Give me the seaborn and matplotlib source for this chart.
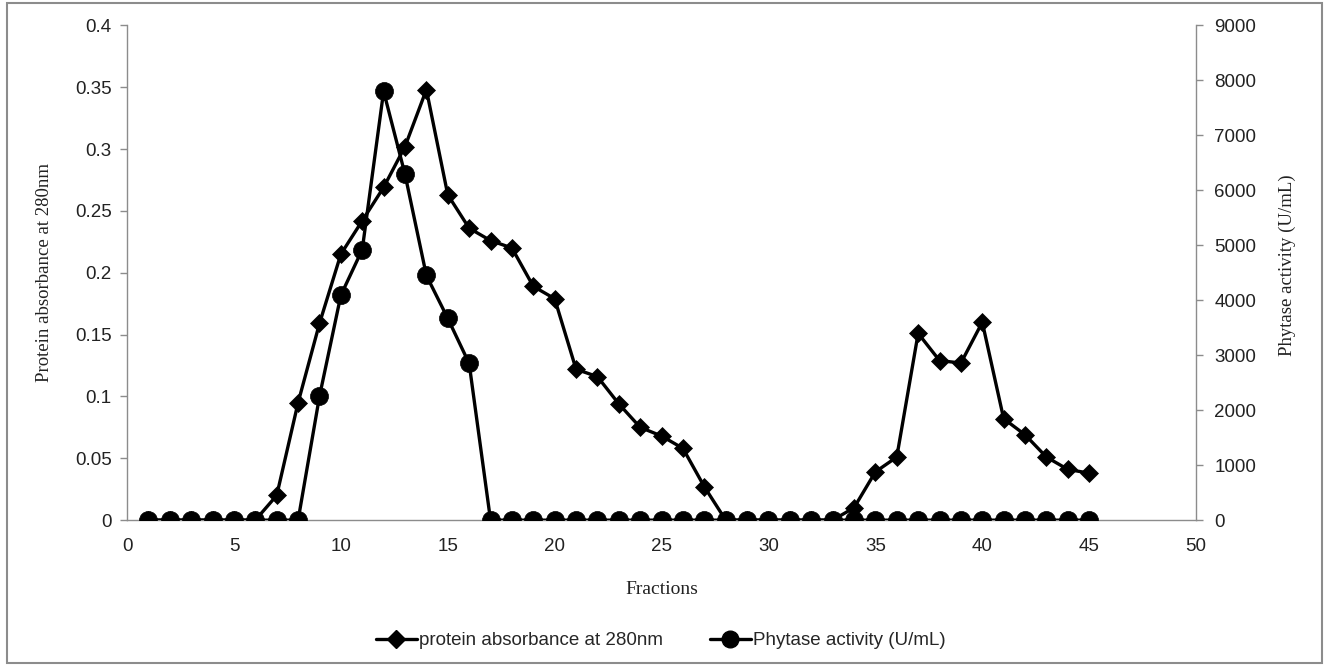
import matplotlib
matplotlib.use("Agg")
import matplotlib.pyplot as plt
from matplotlib.patches import Rectangle
from matplotlib.lines import Line2D
import seaborn as sns
import pandas as pd

# Fraction numbers collected from the column
fractions = list(range(1, 46))

# Protein absorbance at 280 nm for each fraction
protein_a280 = [0, 0, 0, 0, 0, 0, 0.020, 0.095, 0.159, 0.215,
                0.242, 0.269, 0.302, 0.348, 0.263, 0.236, 0.226, 0.220, 0.189, 0.179,
                0.122, 0.116, 0.094, 0.075, 0.068, 0.058, 0.027, 0.0, 0, 0,
                0, 0, 0, 0.010, 0.039, 0.051, 0.151, 0.129, 0.127, 0.160,
                0.082, 0.069, 0.051, 0.041, 0.038]

# Phytase activity (U/mL) for each fraction
phytase_activity = [0, 0, 0, 0, 0, 0, 0, 0, 2250, 4090,
                    4920, 7800, 6290, 4450, 3670, 2850, 0, 0, 0, 0,
                    0, 0, 0, 0, 0, 0, 0, 0, 0, 0,
                    0, 0, 0, 0, 0, 0, 0, 0, 0, 0,
                    0, 0, 0, 0, 0]

x_ticks = [0, 5, 10, 15, 20, 25, 30, 35, 40, 45, 50]
left_ticks = [0, 0.05, 0.1, 0.15, 0.2, 0.25, 0.3, 0.35, 0.4]
left_tick_labels = ["0", "0.05", "0.1", "0.15", "0.2", "0.25", "0.3", "0.35", "0.4"]
right_ticks = [0, 1000, 2000, 3000, 4000, 5000, 6000, 7000, 8000, 9000]

protein_label = "protein absorbance at 280nm"
phytase_label = "Phytase activity (U/mL)"

df = pd.DataFrame({"Fraction": fractions,
                   "A280": protein_a280,
                   "Phytase": phytase_activity})

sns.set_theme(style="white")
plt.rcParams["font.family"] = ["Liberation Sans", "DejaVu Sans"]

fig = plt.figure(figsize=(13.29, 6.66), dpi=100)
ax = fig.add_axes([0.0956, 0.219, 0.8044, 0.743])
ax2 = ax.twinx()

grey = "#8c8c8c"
tick_font = dict(fontsize=13.5, color="#222222")

sns.lineplot(data=df, x="Fraction", y="A280", ax=ax, color="black",
             linewidth=2.4, marker="D", markersize=9.5, markeredgecolor="black",
             markeredgewidth=0.5)
sns.lineplot(data=df, x="Fraction", y="Phytase", ax=ax2, color="black",
             linewidth=2.4, marker="o", markersize=13, markeredgecolor="black",
             markeredgewidth=0.5)

ax.set_xlim(0, 50)
ax.set_ylim(0, 0.4)
ax2.set_ylim(0, 9000)
ax.set_xticks(x_ticks)
ax.set_xticklabels([str(t) for t in x_ticks], **tick_font)
ax.set_yticks(left_ticks)
ax.set_yticklabels(left_tick_labels, **tick_font)
ax2.set_yticks(right_ticks)
ax2.set_yticklabels([str(t) for t in right_ticks], **tick_font)

for a in (ax, ax2):
    a.grid(False)
    a.set_facecolor("none")
    a.spines["top"].set_visible(False)
    for side in ("left", "right", "bottom"):
        a.spines[side].set_color(grey)
        a.spines[side].set_linewidth(1.0)
    a.tick_params(axis="both", which="major", direction="out", length=5,
                  width=1.0, color=grey)
ax.spines["right"].set_visible(False)
ax2.spines["left"].set_visible(False)
ax2.spines["bottom"].set_visible(False)
ax.tick_params(axis="x", pad=8)
ax.tick_params(axis="y", left=True, pad=6)
ax2.tick_params(axis="y", right=True, pad=8)

serif = ["Liberation Serif", "DejaVu Serif"]
ax.set_xlabel("Fractions", family=serif, fontsize=14, color="#222222")
ax.xaxis.set_label_coords(0.5, -0.123)
ax.set_ylabel("Protein absorbance at 280nm", family=serif, fontsize=13.5,
              color="#222222")
ax.yaxis.set_label_coords(-0.069, 0.5)
ax2.set_ylabel(phytase_label, family=serif, fontsize=13.5, color="#222222")
ax2.yaxis.set_label_coords(1.077, 0.515)

handles = [Line2D([0], [0], color="black", linewidth=2.4, marker="D",
                  markersize=9),
           Line2D([0], [0], color="black", linewidth=2.4, marker="o",
                  markersize=12)]
fig.legend(handles, [protein_label, phytase_label], loc="center",
           bbox_to_anchor=(0.497, 0.038), ncol=2, frameon=False, fontsize=13.5,
           handlelength=2.2, handletextpad=0.1, columnspacing=2.5)

# Outer chart-area frame
fig.patches.append(Rectangle((0.005, 0.004), 0.990, 0.991,
                             transform=fig.transFigure, fill=False,
                             edgecolor=grey, linewidth=1.5))

fig.savefig("out.png", dpi=100)
